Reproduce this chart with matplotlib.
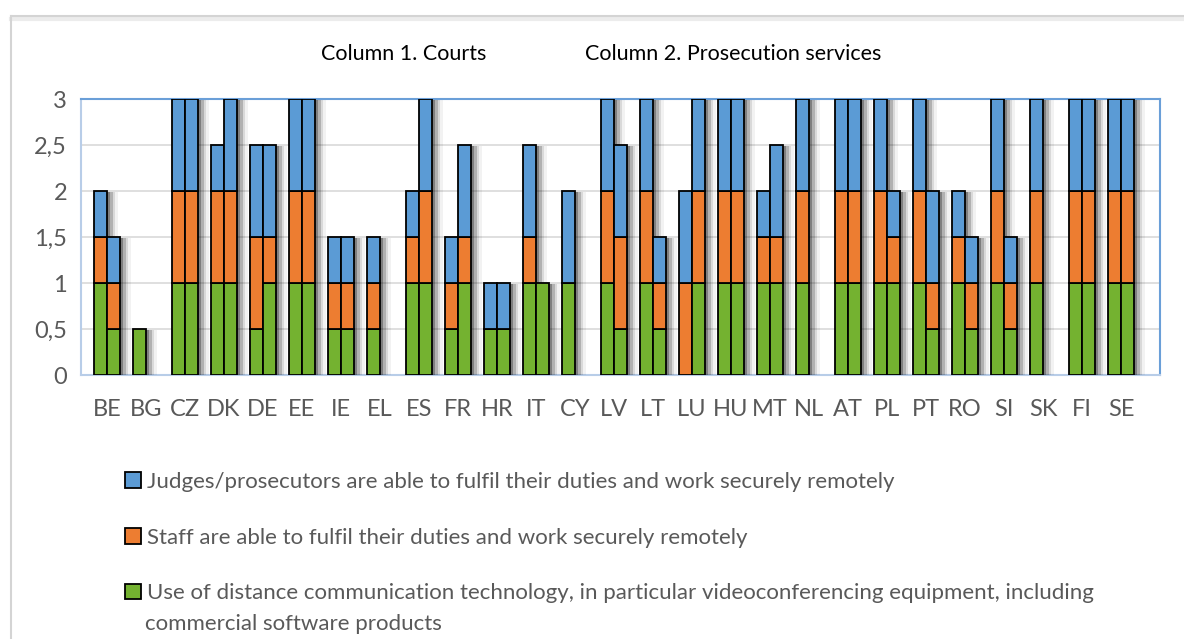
import numpy as np
import matplotlib.pyplot as plt
import matplotlib.patheffects as pe
from matplotlib.lines import Line2D

# country codes
countries = ["BE", "BG", "CZ", "DK", "DE", "EE", "IE", "EL", "ES", "FR", "HR", "IT", "CY", "LV",
             "LT", "LU", "HU", "MT", "NL", "AT", "PL", "PT", "RO", "SI", "SK", "FI", "SE"]

# Column 1: courts
courts_video = [1, .5, 1, 1, .5, 1, .5, .5, 1, .5, .5, 1, 1, 1, 1, 0, 1, 1, 1, 1, 1, 1, 1, 1, 1, 1, 1]
courts_staff = [.5, 0, 1, 1, 1, 1, .5, .5, .5, .5, 0, .5, 0, 1, 1, 1, 1, .5, 1, 1, 1, 1, .5, 1, 1, 1, 1]
courts_judges = [.5, 0, 1, .5, 1, 1, .5, .5, .5, .5, .5, 1, 1, 1, 1, 1, 1, .5, 1, 1, 1, 1, .5, 1, 1, 1, 1]

# Column 2: prosecution services
pros_video = [.5, 0, 1, 1, 1, 1, .5, 0, 1, 1, .5, 1, 0, .5, .5, 1, 1, 1, 0, 1, 1, .5, .5, .5, 0, 1, 1]
pros_staff = [.5, 0, 1, 1, .5, 1, .5, 0, 1, .5, 0, 0, 0, 1, .5, 1, 1, .5, 0, 1, .5, .5, .5, .5, 0, 1, 1]
pros_judges = [.5, 0, 1, 1, 1, 1, .5, 0, 1, 1, .5, 0, 0, 1, .5, 1, 1, 1, 0, 1, .5, 1, .5, .5, 0, 1, 1]

labels = ["Judges/prosecutors are able to fulfil their duties and work securely remotely",
          "Staff are able to fulfil their duties and work securely remotely",
          "Use of distance communication technology, in particular videoconferencing equipment, including"]
label_cont = "commercial software products"

yticks = [0, 0.5, 1, 1.5, 2, 2.5, 3]
ytick_labels = ["0", "0,5", "1", "1,5", "2", "2,5", "3"]

c_blue = "#5B9BD5"
c_orange = "#ED7D31"
c_green = "#74B230"

plt.rcParams['font.family'] = ['Lato', 'DejaVu Sans']

fig = plt.figure(figsize=(11.84, 6.39), dpi=100, facecolor='white')
W, H = 1184, 639
ax = fig.add_axes([81 / W, 1 - 375 / H, 1079 / W, 276 / H])

# soft shadow to the right of each bar segment
shadow = [pe.SimplePatchShadow(offset=(2, -1), alpha=0.28, shadow_rgbFace='k'),
          pe.SimplePatchShadow(offset=(4, -1), alpha=0.18, shadow_rgbFace='k'),
          pe.SimplePatchShadow(offset=(6, -1), alpha=0.10, shadow_rgbFace='k'),
          pe.SimplePatchShadow(offset=(8, -1), alpha=0.05, shadow_rgbFace='k'),
          pe.Normal()]

idx = np.arange(len(countries))
x_court = idx * 3 + 1
x_pros = idx * 3 + 2

handles = []
for x, g, o, b in [(x_court, courts_video, courts_staff, courts_judges),
                   (x_pros, pros_video, pros_staff, pros_judges)]:
    g = np.array(g, float)
    o = np.array(o, float)
    b = np.array(b, float)
    kw = dict(width=1.0, edgecolor='black', linewidth=1.3, zorder=3)
    bg = ax.bar(x, g, color=c_green, **kw)
    bo = ax.bar(x, o, bottom=g, color=c_orange, **kw)
    bb = ax.bar(x, b, bottom=g + o, color=c_blue, **kw)
    for cont in (bg, bo, bb):
        for p in cont:
            if p.get_height() > 0:
                p.set_path_effects(shadow)
            else:
                p.set_visible(False)
    if not handles:
        handles = [bb, bo, bg]

ax.set_xlim(-0.5, 82.5)
ax.set_ylim(0, 3)
ax.set_xticks(idx * 3 + 1.5)
ax.set_xticklabels(countries)
ax.set_yticks(yticks)
ax.set_yticklabels(ytick_labels)
ax.tick_params(length=0, labelsize=17, colors='#595959', pad=10)
ax.tick_params(axis='x', pad=17)
ax.yaxis.grid(True, color='#d9d9d9', linewidth=1.2, zorder=0)
ax.set_axisbelow(True)
for s in ['top', 'right']:
    ax.spines[s].set_color('#6A9FD8')
    ax.spines[s].set_linewidth(1.5)
for s in ['left', 'bottom']:
    ax.spines[s].set_color('#B8CDE8')
    ax.spines[s].set_linewidth(1.5)

fig.text(404 / W, 1 - 54 / H, "Column 1. Courts", ha='center', va='center', fontsize=15.5, color='black')
fig.text(733 / W, 1 - 54 / H, "Column 2. Prosecution services", ha='center', va='center', fontsize=15.5, color='black')

leg = fig.legend(handles, labels, loc='upper left', bbox_to_anchor=(125 / W, 1 - 472 / H),
                 frameon=False, fontsize=16, labelcolor='#595959', handlelength=0.7,
                 handleheight=0.7, handletextpad=0.3, labelspacing=1.6, borderaxespad=0,
                 borderpad=0)
for h in leg.legend_handles:
    h.set_path_effects([])
    h.set_linewidth(1.3)
fig.text(145 / W, 1 - 624 / H, label_cont, ha='left', va='center', fontsize=16, color='#595959')

# outer chart border (top and left edges visible)
x0, y0 = 11 / W, 1 - 16 / H
fig.add_artist(Line2D([x0, 1.0], [y0 - 2.5 / H, y0 - 2.5 / H], transform=fig.transFigure,
                      color='#ececec', linewidth=3))
fig.add_artist(Line2D([x0, 1.0], [y0, y0], transform=fig.transFigure, color='#d4d4d4', linewidth=1.5))
fig.add_artist(Line2D([x0, x0], [0, y0], transform=fig.transFigure, color='#d4d4d4', linewidth=1.5))

fig.savefig("out.png", dpi=100, facecolor='white')
